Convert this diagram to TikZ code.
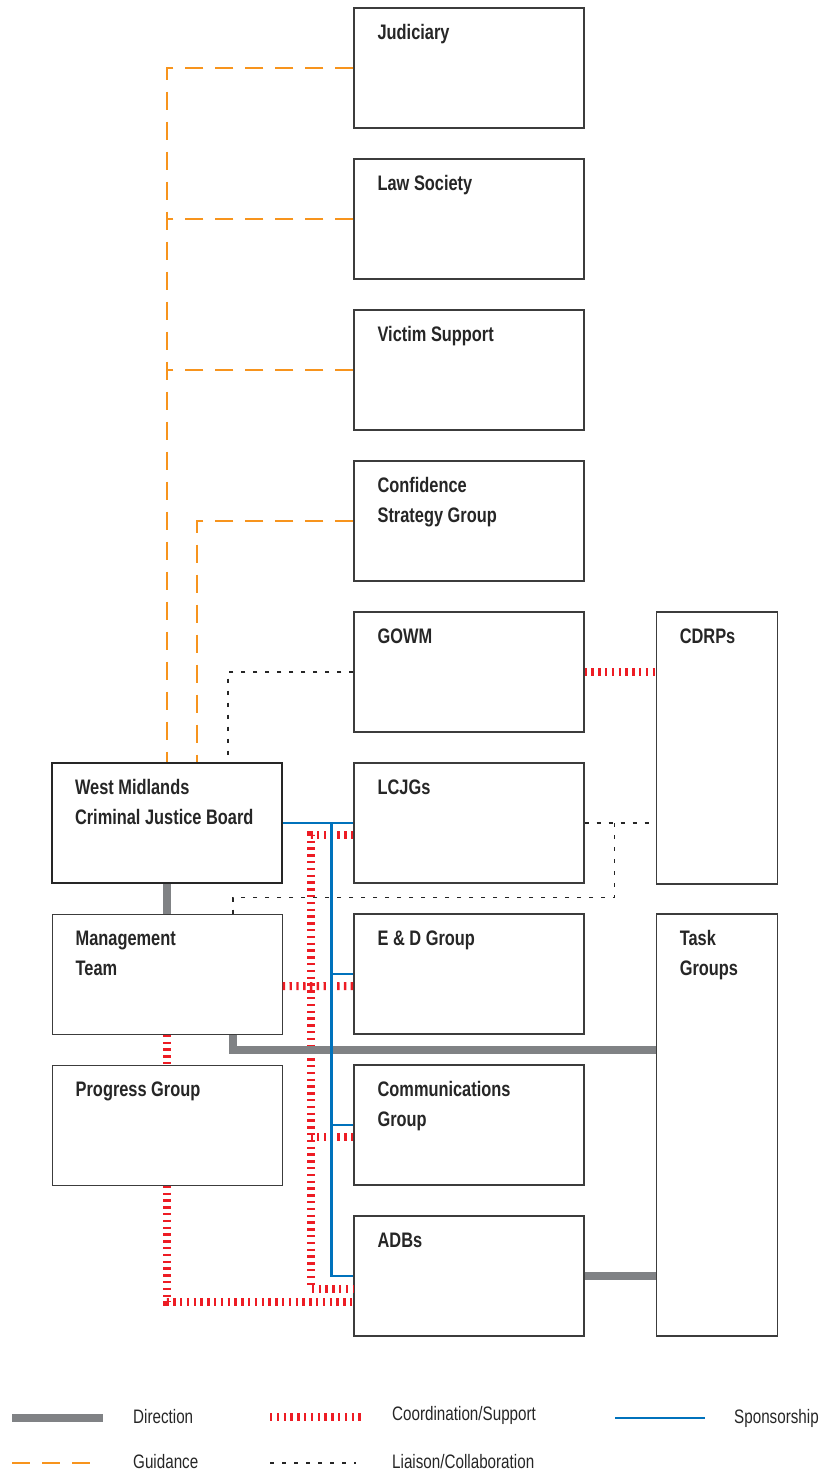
\documentclass[tikz,border=0pt]{standalone}
\usepackage{fontspec}
\setmainfont{Liberation Sans}[FakeStretch=0.78]
\usepackage{tikz}
\usetikzlibrary{positioning}

\definecolor{dirgray}{RGB}{128,130,133}
\definecolor{coordred}{RGB}{237,28,36}
\definecolor{guidorange}{RGB}{247,148,29}
\definecolor{sponsblue}{RGB}{0,114,188}
\definecolor{boxline}{RGB}{60,60,60}

\tikzset{
  unit/.style={draw=boxline, line width=1.2pt, fill=white, minimum width=230pt, minimum height=120pt, inner sep=0pt},
  board/.style={unit, draw=black!85, line width=2.6pt},
  tall/.style={unit, minimum width=121pt},
  lbl/.style={inner sep=0pt, align=left, text=black!85, font=\bfseries\fontsize{21}{30}\selectfont},
  keytext/.style={inner sep=0pt, anchor=base west, text=black!85, font=\fontsize{19.5}{22}\selectfont},
  direction/.style={draw=dirgray, line width=8pt},
  guidance/.style={draw=guidorange, line width=1.8pt, dash pattern=on 18pt off 12pt},
  coordination/.style={draw=coordred, line width=8pt, dash pattern=on 2.4pt off 4.4pt},
  liaison/.style={draw=black!85, line width=1.6pt, dash pattern=on 4pt off 8pt},
  sponsorship/.style={draw=sponsblue, line width=2.2pt}
}

\begin{document}
\begin{tikzpicture}[x=1pt,y=-1pt,node distance=29.8pt]
\useasboundingbox (0,0) rectangle (825,1474);

\node[unit] (JUD) at (469,68) {};
\node[unit] (LAW) [below=of JUD] {};
\node[unit] (VIC) [below=of LAW] {};
\node[unit] (CON) [below=of VIC] {};
\node[unit] (GOW) [below=of CON] {};
\node[unit] (LCJ) [below=of GOW] {};
\node[unit] (EDG) [below=of LCJ] {};
\node[unit] (COM) [below=of EDG] {};
\node[unit] (ADB) [below=of COM] {};

\node[board] (WMB) [left=70pt of LCJ] {};
\node[unit] (MGT) [below=29.2pt of WMB] {};
\node[unit] (PRG) [below=of MGT] {};

\node[tall, minimum height=272pt] (CDR) [right=71pt of GOW.north east, anchor=north west] {};
\node[tall, minimum height=422pt] (TSK) [right=71pt of EDG.north east, anchor=north west] {};

\node[lbl] (JUDt) [below right=17pt and 24pt of JUD.north west] {Judiciary};
\node[lbl] (LAWt) [below right=17pt and 24pt of LAW.north west] {Law Society};
\node[lbl] (VICt) [below right=17pt and 24pt of VIC.north west] {Victim Support};
\node[lbl] (CONt) [below right=17pt and 24pt of CON.north west] {Confidence\\Strategy Group};
\node[lbl] (GOWt) [below right=17pt and 24pt of GOW.north west] {GOWM};
\node[lbl] (LCJt) [below right=17pt and 24pt of LCJ.north west] {LCJGs};
\node[lbl] (EDGt) [below right=17pt and 24pt of EDG.north west] {E \& D Group};
\node[lbl] (COMt) [below right=17pt and 24pt of COM.north west] {Communications\\Group};
\node[lbl] (ADBt) [below right=17pt and 24pt of ADB.north west] {ADBs};
\node[lbl] (WMBt) [below right=17pt and 24pt of WMB.north west] {West Midlands\\Criminal Justice Board};
\node[lbl] (MGTt) [below right=17pt and 24pt of MGT.north west] {Management\\Team};
\node[lbl] (PRGt) [below right=17pt and 24pt of PRG.north west] {Progress Group};
\node[lbl] (CDRt) [below right=17pt and 24pt of CDR.north west] {CDRPs};
\node[lbl] (TSKt) [below right=17pt and 24pt of TSK.north west] {Task\\Groups};

\coordinate (g2) at ([xshift=30pt]WMB.north);
\coordinate (l1) at ([xshift=61pt]WMB.north);
\coordinate (l2) at ([xshift=30pt]LCJ.east);
\coordinate (l3) at ([xshift=66pt,yshift=16pt]MGT.north);
\coordinate (s1) at ([xshift=48pt]WMB.east);
\coordinate (c1) at ([xshift=-42pt,yshift=-13pt]ADB.west);
\coordinate (d1) at ([yshift=-15pt]MGT.south -| TSK.west);

\draw[guidance] (JUD.west) -| (WMB.north);
\path (LAW.west) edge[guidance] (LAW.west -| WMB.north)
      (VIC.west) edge[guidance] (VIC.west -| WMB.north);
\draw[guidance] (CON.west) -| (g2);

\path (GOW.east) edge[coordination] (GOW.east -| CDR.west)
      ([yshift=-12pt]MGT.east) edge[coordination] ([yshift=-12pt]EDG.west)
      (MGT.south) edge[coordination] (PRG.north)
      ([yshift=-12pt]COM.west) edge[coordination] ([yshift=-12pt]COM.west -| c1);
\draw[coordination] ([yshift=-12pt]LCJ.west) -| (c1) -- ([yshift=-13pt]ADB.west);
\draw[coordination] (PRG.south) |- ([yshift=-26pt]ADB.west);

\path (WMB.south) edge[direction] (MGT.north)
      (ADB.east) edge[direction] (ADB.east -| TSK.west);
\draw[direction] ([xshift=66pt]MGT.south) |- (d1);

\path (WMB.east) edge[sponsorship] (LCJ.west)
      (EDG.west -| s1) edge[sponsorship] (EDG.west)
      (COM.west -| s1) edge[sponsorship] (COM.west);
\draw[sponsorship] (s1) |- (ADB.west);

\draw[liaison] (GOW.west) -| (l1) -- (WMB.north -| l1);
\path (LCJ.east) edge[liaison] (LCJ.east -| CDR.west);
\draw[liaison] (l2) |- (l3) -- ([xshift=66pt]MGT.north);

\draw[direction] (12,1418) -- (103,1418);
\draw[guidance] (12,1463) -- (98,1463);
\draw[coordination] (270,1417) -- (362,1417);
\draw[liaison] (270,1463) -- (356,1463);
\draw[sponsorship] (615,1418) -- (705,1418);

\node[keytext] (k1) at (133,1423) {Direction};
\node[keytext] (k2) at (133,1468) {Guidance};
\node[keytext] (k3) at (392,1420) {Coordination/Support};
\node[keytext] (k4) at (392,1468) {Liaison/Collaboration};
\node[keytext] (k5) at (734,1423) {Sponsorship};

\end{tikzpicture}
\end{document}
